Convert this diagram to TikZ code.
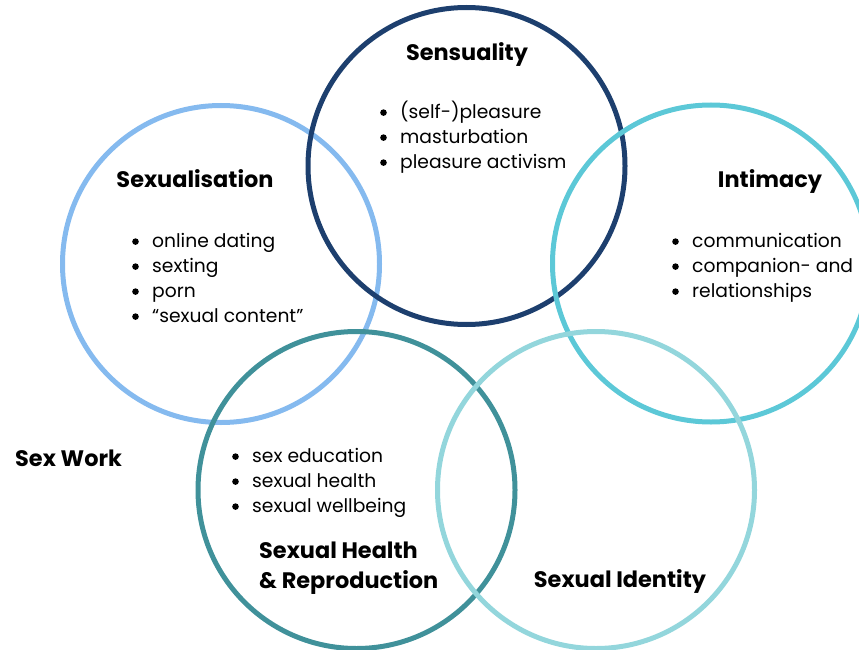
\documentclass[tikz,border=0pt]{standalone}
\usepackage{fontspec}
\setmainfont{Poppins}
\definecolor{cSexualisation}{HTML}{85BAEF}
\definecolor{cSensuality}{HTML}{1D3F6E}
\definecolor{cIntimacy}{HTML}{5CC8D7}
\definecolor{cHealth}{HTML}{40919A}
\definecolor{cIdentity}{HTML}{93D6DC}
% round list marker followed by a fixed gap
\newcommand{\bul}{\makebox[20pt][l]{\tikz[baseline=0pt]\fill (3.4pt,5.4pt) circle[radius=3.3pt];}}
\begin{document}
\begin{tikzpicture}[x=1pt,y=-1pt,
  ring/.style={circle,draw=#1,line width=5pt,minimum size=317pt,inner sep=0pt},
  heading/.style={font=\fontsize{22.4}{30}\selectfont\bfseries,inner sep=0pt,anchor=base},
  items/.style={font=\fontsize{18.7}{25}\selectfont,align=left,inner sep=0pt,anchor=base west}]
\useasboundingbox (0,0) rectangle (859,650);
% circles
\node[ring=cSexualisation] (sexualisation) at (221,264) {};
\node[ring=cSensuality] (sensuality) at (466.5,166) {};
\node[ring=cIntimacy] (intimacy) at (711,263.5) {};
\node[ring=cHealth] (health) at (356.5,490) {};
\node[ring=cIdentity] (identity) at (596,490) {};
% headings
\node[heading] (tSensuality) at (467,60.5) {Sensuality};
\node[heading] (tSexualisation) at (195,187.5) {Sexualisation};
\node[heading] (tIntimacy) at (770,187.5) {Intimacy};
\node[heading,anchor=base west] (tSexWork) at (15,466) {Sex Work};
\node[heading,anchor=base west,align=left] (tHealth) at (259,588) {Sexual Health\\\& Reproduction};
\node[heading] (tIdentity) at (620,587) {Sexual Identity};
% bullet lists (anchored at the baseline of their last line)
\node[items] (lSensuality) at (380,168) {\bul(self-)pleasure\\\bul masturbation\\\bul pleasure activism};
\node[items] (lSexualisation) at (132,322) {\bul online dating\\\bul sexting\\\bul porn\\\bul “sexual content”};
\node[items] (lIntimacy) at (672,297) {\bul communication\\\bul companion- and\\\bul relationships};
\node[items] (lHealth) at (232,512) {\bul sex education\\\bul sexual health\\\bul sexual wellbeing};
\end{tikzpicture}
\end{document}
